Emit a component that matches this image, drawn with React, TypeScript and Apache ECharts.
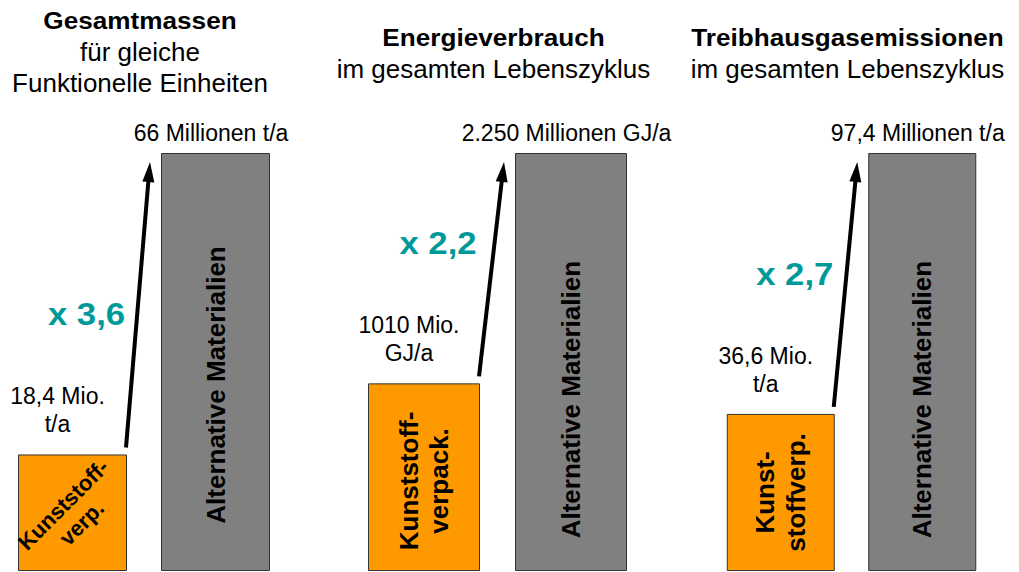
import React, { useEffect, useRef } from 'react';
import * as echarts from 'echarts';

// ---- data ----
const panelTitles = ['Gesamtmassen', 'Energieverbrauch', 'Treibhausgasemissionen'];
const panelSubtitles = [
  ['für gleiche', 'Funktionelle Einheiten'],
  ['im gesamten Lebenszyklus'],
  ['im gesamten Lebenszyklus'],
];
const categories = ['Kunststoffverpackungen', 'Alternative Materialien'];
const plasticValues = [18.4, 1010, 36.6];
const alternativeValues = [66, 2250, 97.4];
const plasticBarLabels = ['Kunststoff-\nverp.', 'Kunststoff-\nverpack.', 'Kunst-\nstoffverp.'];
const alternativeBarLabel = 'Alternative Materialien';
const plasticValueLabels = ['18,4 Mio.\nt/a', '1010 Mio.\nGJ/a', '36,6 Mio.\nt/a'];
const alternativeValueLabels = ['66 Millionen t/a', '2.250 Millionen GJ/a', '97,4 Millionen t/a'];

// ---- layout / style ----
const layout = [
  { left: 1, width: 286, barWidth: 109, plasticRotate: 45, plasticY: '51%', altY: '55.5%', fs: 22, titleY: 20 },
  { left: 350.5, width: 294, barWidth: 112, plasticRotate: 90, plasticY: '52%', altY: '59%', fs: 26, titleY: 37 },
  { left: 710, width: 283, barWidth: 108, plasticRotate: 90, plasticY: '50%', altY: '59%', fs: 26, titleY: 37 },
];
const FONT = '"Liberation Sans", Arial, Helvetica, sans-serif';
const ORANGE = '#FF9900';
const GRAY = '#808080';
const TEAL = '#009999';

export default function App() {
  const ref = useRef<HTMLDivElement>(null);
  useEffect(() => {
    const chart = echarts.init(ref.current!, null, { renderer: 'svg' });
    const option: any = {
      animation: false,
      backgroundColor: '#ffffff',
      grid: layout.map((l) => ({ left: l.left, width: l.width, top: 153, bottom: 1 })),
      xAxis: layout.map((_, i) => ({ type: 'category', gridIndex: i, data: categories, show: false })),
      yAxis: layout.map((_, i) => ({ type: 'value', gridIndex: i, min: 0, max: alternativeValues[i], show: false })),
      series: layout.map((l, i) => ({
        type: 'bar',
        xAxisIndex: i,
        yAxisIndex: i,
        barWidth: l.barWidth,
        itemStyle: { borderColor: '#333333', borderWidth: 1 },
        label: {
          show: true,
          fontFamily: FONT,
          fontWeight: 'bold',
          color: '#000',
          align: 'center',
          verticalAlign: 'middle',
        },
        data: [
          {
            value: plasticValues[i],
            itemStyle: { color: ORANGE },
            label: {
              formatter: plasticBarLabels[i],
              rotate: l.plasticRotate,
              position: ['50%', l.plasticY],
              fontSize: l.fs,
              lineHeight: l.fs * 1.18,
            },
          },
          {
            value: alternativeValues[i],
            itemStyle: { color: GRAY },
            label: {
              formatter: alternativeBarLabel,
              rotate: 90,
              position: ['50%', l.altY],
              fontSize: 26,
            },
          },
        ],
      })),
    };
    chart.setOption(option);

    const graphic: any[] = [];
    const txt = (x: number, y: number, text: string, fontSize: number, bold: boolean, fill: string, scaleX: number, lineHeight?: number, align = 'center') => ({
      type: 'text',
      x,
      y,
      scaleX,
      style: {
        text,
        x: 0,
        y: 0,
        fontSize,
        fontFamily: FONT,
        fontWeight: bold ? 'bold' : 'normal',
        fill,
        align,
        verticalAlign: 'middle',
        textAlign: align,
        textVerticalAlign: 'middle',
        lineHeight: lineHeight || fontSize * 1.2,
      },
      silent: true,
    });

    layout.forEach((l, i) => {
      const pO = chart.convertToPixel({ gridIndex: i }, [categories[0], plasticValues[i]]) as number[];
      const pA = chart.convertToPixel({ gridIndex: i }, [categories[1], alternativeValues[i]]) as number[];
      const half = l.barWidth / 2;
      const center = (pO[0] - half + pA[0] + half) / 2 - 4;

      // headings
      graphic.push(txt(center, l.titleY, panelTitles[i], 24, true, '#000', 1.09));
      panelSubtitles[i].forEach((s, k) => {
        graphic.push(txt(center, l.titleY + 31.5 * (k + 1), s, 26, false, '#000', 1));
      });

      // value labels
      graphic.push(txt(pA[0] - 4.5, pA[1] - 20, alternativeValueLabels[i], 23, false, '#000', 1));
      graphic.push(txt(pO[0] - 15, pO[1] - 44, plasticValueLabels[i], 23, false, '#000', 1, 28));

      // arrow
      const x0 = pO[0] + half - 1;
      const y0 = pO[1] - 7;
      const xt = pA[0] - half - 11;
      const yt = pA[1] + 9;
      const dx = xt - x0;
      const dy = yt - y0;
      const len = Math.sqrt(dx * dx + dy * dy);
      const ux = dx / len;
      const uy = dy / len;
      const headLen = 20;
      const headHalf = 6;
      const bx = xt - ux * headLen;
      const by = yt - uy * headLen;
      graphic.push({
        type: 'line',
        shape: { x1: x0, y1: y0, x2: bx + ux * 2, y2: by + uy * 2 },
        style: { stroke: '#000', lineWidth: 4 },
        silent: true,
      });
      graphic.push({
        type: 'polygon',
        shape: {
          points: [
            [xt, yt],
            [bx - uy * headHalf, by + ux * headHalf],
            [bx + uy * headHalf, by - ux * headHalf],
          ],
        },
        style: { fill: '#000' },
        silent: true,
      });

      // multiplier
      const ratio = (alternativeValues[i] / plasticValues[i]).toFixed(1).replace('.', ',');
      graphic.push(txt(pO[0] + 14, pO[1] - 140, 'x ' + ratio, 31, true, TEAL, 1.12));
    });

    chart.setOption({ graphic });
    return () => chart.dispose();
  }, []);
  return <div ref={ref} style={{ position: 'absolute', left: 0, top: 0, width: 1019, height: 572 }} />;
}
